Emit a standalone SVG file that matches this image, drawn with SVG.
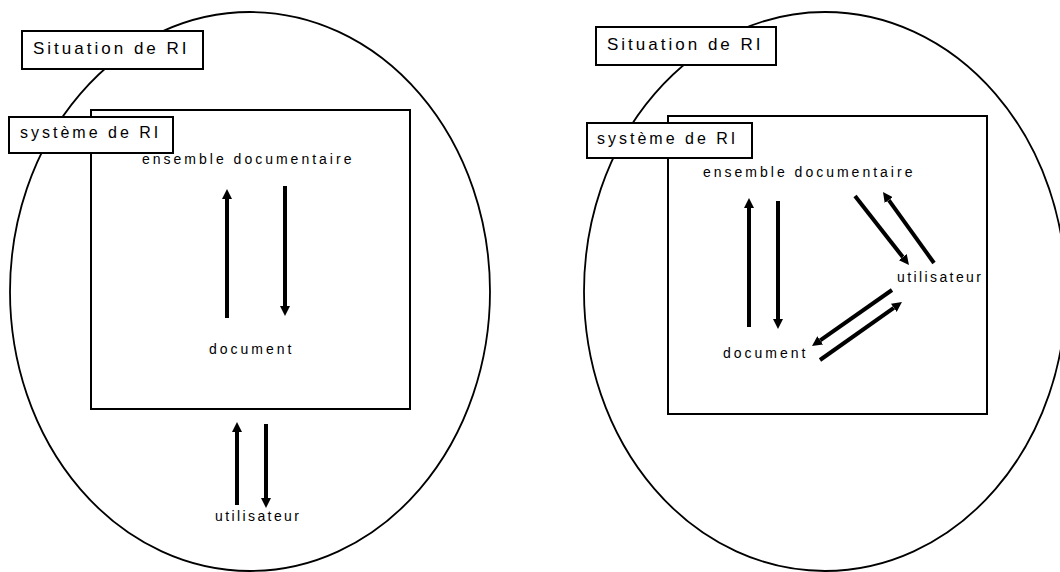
<svg xmlns="http://www.w3.org/2000/svg" width="1060" height="572" viewBox="0 0 1060 572">
<defs>
<style>
.ell{fill:none;stroke:#000;stroke-width:1.8}
.box{fill:#fff;stroke:#000;stroke-width:2}
.lbl{font-family:"Liberation Sans",Arial,sans-serif;fill:#000}
.t1{font-size:17px;letter-spacing:3px}
.t2{font-size:16px;letter-spacing:3px}
.t3{font-size:14px;letter-spacing:3px}
.arr{stroke:#000;stroke-width:4;fill:none;marker-end:url(#ah)}
</style>
<marker id="ah" markerUnits="userSpaceOnUse" markerWidth="10" markerHeight="10" viewBox="0 0 10 10" refX="0" refY="5" orient="auto">
<path d="M0,0 L10,5 L0,10 z" fill="#000"/>
</marker>
</defs>
<rect width="1060" height="572" fill="#fff"/>

<g id="situation-left">
<ellipse class="ell" cx="250" cy="291.5" rx="240" ry="279.5"/>
</g>
<g id="systeme-left-frame">
<rect class="box" x="91" y="110" width="319" height="299"/>
</g>
<g id="situation-left-label">
<rect class="box" x="22" y="31" width="181" height="38"/>
<text class="lbl t1" x="33" y="54">Situation de RI</text>
</g>
<g id="systeme-left-label">
<rect class="box" x="9" y="117" width="164" height="36"/>
<text class="lbl t2" x="20" y="138">système de RI</text>
</g>
<g id="ensemble-left"><text class="lbl t3" x="142" y="164">ensemble documentaire</text></g>
<g id="document-left"><text class="lbl t3" x="209" y="354">document</text></g>
<g id="utilisateur-left"><text class="lbl t3" x="215" y="521" style="letter-spacing:2.4px">utilisateur</text></g>

<g id="situation-right">
<ellipse class="ell" cx="825" cy="291.5" rx="241" ry="279.5"/>
</g>
<g id="systeme-right-frame">
<rect class="box" x="668" y="116" width="319" height="298"/>
</g>
<g id="situation-right-label">
<rect class="box" x="596" y="27" width="180" height="38"/>
<text class="lbl t1" x="607" y="50">Situation de RI</text>
</g>
<g id="systeme-right-label">
<rect class="box" x="587" y="123" width="165" height="35"/>
<text class="lbl t2" x="597" y="144">système de RI</text>
</g>
<g id="ensemble-right"><text class="lbl t3" x="703" y="177">ensemble documentaire</text></g>
<g id="document-right"><text class="lbl t3" x="723" y="358">document</text></g>
<g id="utilisateur-right"><text class="lbl t3" x="897" y="282" style="letter-spacing:2.4px">utilisateur</text></g>

<g id="connectors">
<line class="arr" x1="227" y1="318" x2="227" y2="199"/>
<line class="arr" x1="285" y1="186" x2="285" y2="306"/>
<line class="arr" x1="237" y1="505" x2="237" y2="432"/>
<line class="arr" x1="266" y1="424" x2="266" y2="498"/>
<line class="arr" x1="749" y1="327" x2="749" y2="208"/>
<line class="arr" x1="778" y1="201" x2="778" y2="319"/>
<line class="arr" x1="855" y1="196" x2="902.8" y2="257.1"/>
<line class="arr" x1="934" y1="263" x2="888.8" y2="200.1"/>
<line class="arr" x1="892" y1="290" x2="820.2" y2="340.3"/>
<line class="arr" x1="820" y1="360" x2="893.8" y2="307.8"/>
</g>
</svg>
